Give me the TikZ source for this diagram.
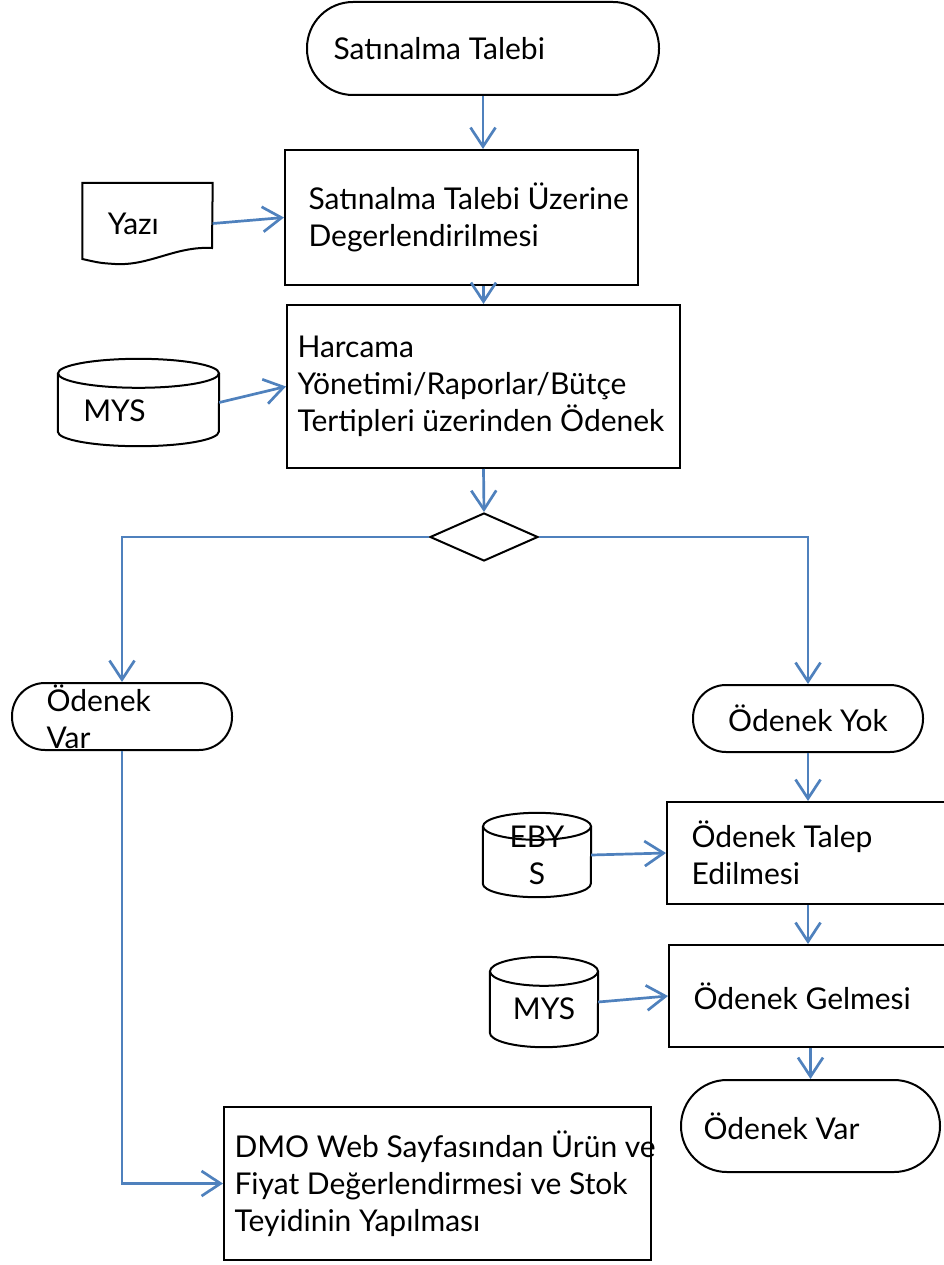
\documentclass[tikz,border=0pt]{standalone}
\usepackage{fontspec}
\setmainfont{Lato}
\usepackage{tikz}
\usetikzlibrary{arrows.meta,%
                shapes.geometric}
\definecolor{flowblue}{RGB}{79,129,189}
% cylinder outline round a named node: #1 node, #2 x radius, #3 y radius
\newcommand\drawdb[3]{%
	\draw[line width=2pt] ([yshift=-#3]#1.north) ellipse [x radius=#2, y radius=#3];
	\draw[line width=2pt] ([yshift=-#3]#1.north west) -- ([yshift=#3]#1.south west)
		arc [start angle=180, end angle=360, x radius=#2, y radius=#3] -- ([yshift=-#3]#1.north east);}

\begin{document}
\begin{tikzpicture}[x=1pt,y=-1pt,font=\fontsize{30}{37}\selectfont]
		\useasboundingbox (0,0) rectangle (944,1265);
		\tikzset{BoxStyle/.style = {draw=black,line width=2pt,shape=rectangle,inner sep=0pt}}
		\tikzset{TermStyle/.style = {BoxStyle,rounded corners=#1}}
		\tikzset{DataStyle/.style = {shape=rectangle,inner sep=0pt}}
		\tikzset{EdgeStyle/.style = {draw=flowblue,line width=2.7pt,-{Straight Barb[length=19pt,width=25pt]}}}
		\tikzset{LabelStyle/.style = {anchor=west,align=left,xshift=#1}}
		% terminals
		\node[TermStyle=46pt,minimum width=352pt,minimum height=93pt,
			label={[LabelStyle=24pt]west:Satınalma Talebi}] (start) at (483,48.5) {};
		\node[TermStyle=33pt,minimum width=220pt,minimum height=67pt,
			label={[LabelStyle=32pt]west:Ödenek\\Var}] (var1) at (122,716.5) {};
		\node[TermStyle=33pt,minimum width=230pt,minimum height=67pt] (yok) at (808,718.5) {Ödenek Yok};
		\node[TermStyle=46pt,minimum width=259pt,minimum height=92pt,
			label={[LabelStyle=20pt]west:Ödenek Var}] (var2) at (810.5,1126) {};
		% steps
		\node[BoxStyle,minimum width=353pt,minimum height=135pt,
			label={[LabelStyle=21pt]west:Satınalma Talebi Üzerine\\Degerlendirilmesi}] (box1) at (461.5,217.5) {};
		\node[BoxStyle,minimum width=393pt,minimum height=163pt,
			label={[LabelStyle=8pt]west:Harcama\\Yönetimi/Raporlar/Bütçe\\Tertipleri üzerinden Ödenek}] (box2) at (483.5,386.5) {};
		\node[BoxStyle,minimum width=290pt,minimum height=102pt,
			label={[LabelStyle=22pt]west:Ödenek Talep\\Edilmesi}] (talep) at (812,853) {};
		\node[BoxStyle,minimum width=290pt,minimum height=102pt,
			label={[LabelStyle=22pt]west:Ödenek Gelmesi}] (gelme) at (814,996) {};
		\node[BoxStyle,minimum width=427pt,minimum height=153pt,
			label={[LabelStyle=8pt]west:DMO Web Sayfasından Ürün ve\\Fiyat Değerlendirmesi ve Stok\\Teyidinin Yapılması}] (dmo) at (437.5,1183.5) {};
		% decision
		\node[draw=black,line width=2pt,shape=diamond,aspect=2.25,inner sep=0pt,
			minimum width=108pt,minimum height=48pt] (dec) at (484,537) {};
		% inputs
		\node[minimum width=130pt,minimum height=81pt,inner sep=0pt,
			label={[LabelStyle=22pt]west:Yazı}] (yazi) at (147.5,223.5) {};
		\draw[line width=2pt] (yazi.north west) -- (yazi.north east) -- (212,248)
			.. controls (175,246) and (150,266) .. (115,264) .. controls (100,263) .. (yazi.west |- 0,259) -- cycle;
		\node[DataStyle,minimum width=161pt,minimum height=87pt,
			label={[LabelStyle=22pt,yshift=-8pt]west:MYS}] (mys1) at (138.5,402.5) {};
		\node[DataStyle,minimum width=108pt,minimum height=84pt,align=center] (ebys) at (537,855) {EBY\\S};
		\node[DataStyle,minimum width=108pt,minimum height=90pt,text height=36pt] (mys2) at (544,1002) {MYS};
		\drawdb{mys1}{80.5pt}{14.5pt}
		\drawdb{ebys}{54pt}{13.5pt}
		\drawdb{mys2}{54pt}{14.5pt}
		% connectors
		\draw[EdgeStyle] (start.south) -- (start.south |- box1.north);
		\draw[EdgeStyle] (box1.south -| box2.north) -- (box2.north);
		\draw[EdgeStyle] (box2.south) -- (dec.north);
		\draw[EdgeStyle] (dec.west) -| (var1.north);
		\draw[EdgeStyle] (dec.east) -| (yok.north);
		\draw[EdgeStyle] (yok.south) -- (yok.south |- talep.north);
		\draw[EdgeStyle] (talep.south -| yok.south) -- (gelme.north -| yok.south);
		\draw[EdgeStyle] (gelme.south -| var2.north) -- (var2.north);
		\draw[EdgeStyle] (var1.south) |- (dmo.west);
		\draw[EdgeStyle] (yazi.east) -- (box1.west);
		\draw[EdgeStyle] (mys1.east) -- (box2.west);
		\draw[EdgeStyle] (ebys.east) -- (talep.west);
		\draw[EdgeStyle] (mys2.east) -- (gelme.west);
		%\tikzset{EdgeStyle/.append style = {densely dotted}}
\end{tikzpicture}
\end{document}
